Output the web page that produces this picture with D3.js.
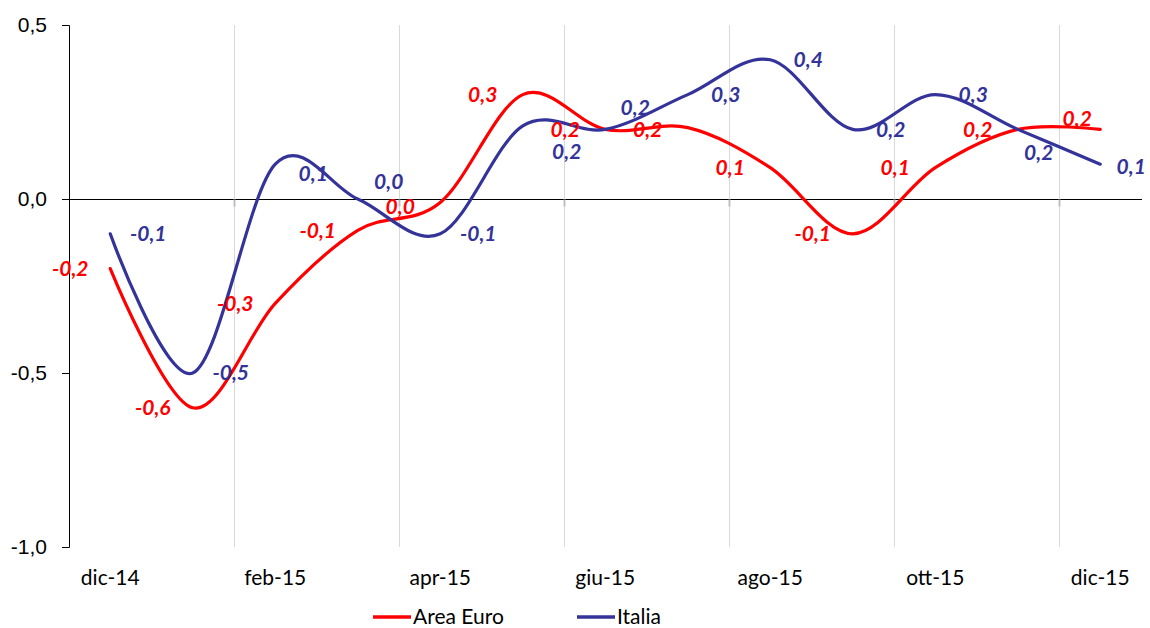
<!DOCTYPE html>
<html>
<head>
<meta charset="utf-8">
<script src="https://cdn.jsdelivr.net/npm/d3@7"></script>
<style>
  body { margin: 0; background: #fff; }
  svg { font-family: Lato, "Open Sans", sans-serif; }
</style>
</head>
<body>
<svg id="chart" width="1150" height="628"></svg>
<script>
// months (only every other one gets a label on the axis)
var months = ["dic-14", "gen-15", "feb-15", "mar-15", "apr-15", "mag-15", "giu-15",
              "lug-15", "ago-15", "set-15", "ott-15", "nov-15", "dic-15"];
var tickLabels = ["dic-14", "feb-15", "apr-15", "giu-15", "ago-15", "ott-15", "dic-15"];
var yTicks = [0.5, 0, -0.5, -1.0];

var areaEuro = [-0.2, -0.6, -0.3, -0.09, -0.01, 0.30, 0.20, 0.205, 0.09, -0.10, 0.09, 0.20, 0.20];
var italia   = [-0.1, -0.5, 0.10, 0.0, -0.10, 0.21, 0.20, 0.30, 0.40, 0.20, 0.30, 0.20, 0.10];

var seriesNames = ["Area Euro", "Italia"];
var seriesColors = ["#ff0000", "#333399"];

// hand placed data labels (like in the original): default side + a few nudges
var labelSide = [-40, 38];
var labelNudge = {
    "0-4": [0, 4],
    "0-7": [0, 2],
    "0-12": [17, -11],
    "1-2": [0, 9],
    "1-3": [-7, -17],
    "1-5": [6, 26],
    "1-6": [-8, -22],
    "1-11": [-17, 23],
    "1-12": [-7, 2]
};

var svg = d3.select("svg#chart");

var margin = { top: 25, right: 8, bottom: 81, left: 69 };
var plotWidth = 1150 - margin.left - margin.right;
var plotHeight = 628 - margin.top - margin.bottom;

var plot = svg.append("g")
    .attr("transform", "translate(" + margin.left + "," + margin.top + ")");

// band scale so points sit in the middle of each month slot
var x = d3.scaleBand()
    .domain(months)
    .range([0, 13 * 82.5]);
var xc = function (m) { return x(m) + x.bandwidth() / 2; };

var y = d3.scaleLinear()
    .domain([-1.0, 0.5])
    .range([plotHeight, 0]);

var fmt = function (v) { return d3.format(".1f")(v).replace(".", ",").replace("−", "-"); };

// vertical gridlines at the left edge of every labelled month (except the first)
var gridMonths = tickLabels.slice(1);
plot.selectAll("line.grid")
    .data(gridMonths)
    .enter().append("line")
    .attr("class", "grid")
    .attr("x1", function (d) { return Math.round(x(d)) + 0.5; })
    .attr("x2", function (d) { return Math.round(x(d)) + 0.5; })
    .attr("y1", 0)
    .attr("y2", plotHeight)
    .attr("stroke", "#d9d9d9")
    .attr("stroke-width", 1);

// y axis
var yAxis = d3.axisLeft(y)
    .tickValues(yTicks)
    .tickSize(7)
    .tickPadding(15)
    .tickFormat(fmt);

var yGroup = plot.append("g").attr("id", "y-axis").call(yAxis);
yGroup.select(".domain").attr("stroke", "#000");
yGroup.selectAll("line").attr("stroke", "#000");
yGroup.selectAll("text")
    .style("font-size", "21px")
    .attr("fill", "#000");

// zero line with little ticks below it
var xAxis = d3.axisBottom(x)
    .tickValues([])
    .tickSizeOuter(0);
var xGroup = plot.append("g").attr("id", "x-axis")
    .attr("transform", "translate(0," + (y(0) + 0.5) + ")")
    .call(xAxis);
xGroup.select(".domain").attr("stroke", "#000").attr("d", "M0,0H" + plotWidth);

xGroup.selectAll("line.zt")
    .data(gridMonths)
    .enter().append("line")
    .attr("class", "zt")
    .attr("x1", function (d) { return Math.round(x(d)) + 0.5; })
    .attr("x2", function (d) { return Math.round(x(d)) + 0.5; })
    .attr("y1", 0)
    .attr("y2", 7)
    .attr("stroke", "#bfbfbf")
    .attr("stroke-width", 2);

// month labels below the plot
plot.selectAll("text.month")
    .data(tickLabels)
    .enter().append("text")
    .attr("class", "month")
    .attr("x", function (d) { return xc(d); })
    .attr("y", plotHeight + 38)
    .style("text-anchor", "middle")
    .style("font-size", "21px")
    .attr("fill", "#000")
    .text(function (d) { return d; });

// lines
var line = d3.line()
    .x(function (d, i) { return xc(months[i]); })
    .y(function (d) { return y(d); })
    .curve(d3.curveCardinal.tension(0));

var allSeries = [areaEuro, italia];

allSeries.forEach(function (values, s) {
    plot.append("path")
        .datum(values)
        .attr("d", line)
        .attr("fill", "none")
        .attr("stroke", seriesColors[s])
        .attr("stroke-width", 3.2)
        .attr("stroke-linecap", "round");
});

// data labels: red ones to the left of the point, blue ones to the right
allSeries.forEach(function (values, s) {
    plot.selectAll("text.lab" + s)
        .data(values)
        .enter().append("text")
        .attr("class", "lab" + s)
        .attr("x", function (d, i) {
            var n = labelNudge[s + "-" + i] || [0, 0];
            return xc(months[i]) + labelSide[s] + n[0];
        })
        .attr("y", function (d, i) {
            var n = labelNudge[s + "-" + i] || [0, 0];
            return y(d) + n[1];
        })
        .attr("dy", "0.35em")
        .style("text-anchor", "middle")
        .style("font-size", "21px")
        .style("font-weight", "bold")
        .style("font-style", "italic")
        .attr("fill", seriesColors[s])
        .text(function (d) { return fmt(d); });
});

// legend
var legendX = [373, 577];
seriesNames.forEach(function (name, s) {
    var g = svg.append("g").attr("transform", "translate(" + legendX[s] + ",617)");
    g.append("line")
        .attr("x1", 0).attr("x2", 38)
        .attr("y1", 0).attr("y2", 0)
        .attr("stroke", seriesColors[s])
        .attr("stroke-width", 3.5);
    g.append("text")
        .attr("x", 40)
        .attr("y", 0)
        .attr("dy", "0.35em")
        .style("font-size", "21px")
        .attr("fill", "#000")
        .text(name);
});
</script>
</body>
</html>
